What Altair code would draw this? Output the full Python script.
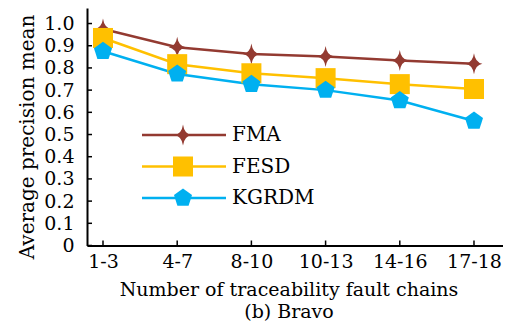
import altair as alt
import pandas as pd

categories = ["1-3", "4-7", "8-10", "10-13", "14-16", "17-18"]
series = ["FMA", "FESD", "KGRDM"]
fma = [0.975, 0.893, 0.863, 0.851, 0.833, 0.819]
fesd = [0.935, 0.817, 0.776, 0.754, 0.727, 0.705]
kgrdm = [0.875, 0.773, 0.726, 0.700, 0.653, 0.561]
y_ticks = [0.0, 0.1, 0.2, 0.3, 0.4, 0.5, 0.6, 0.7, 0.8, 0.9, 1.0]

colors = ["#933A31", "#FFC000", "#00B0F0"]
STAR = "M0,-1 Q0.12,-0.12 0.8,0 Q0.12,0.12 0,1 Q-0.12,0.12 -0.8,0 Q-0.12,-0.12 0,-1 Z"
PENT = "M0,-1 L0.951,-0.309 L0.588,0.809 L-0.588,0.809 L-0.951,-0.309 Z"
shapes = [STAR, "square", PENT]

rows = []
for s, vals in zip(series, [fma, fesd, kgrdm]):
    for i, (c, v) in enumerate(zip(categories, vals)):
        rows.append({"series": s, "idx": i, "cat": c, "value": v})
df = pd.DataFrame(rows)

W, H = 416, 237.5
FONT = "DejaVu Serif"

label_expr = "[" + ",".join("'%s'" % c for c in categories) + "][datum.value]"

color = alt.Color("series:N", scale=alt.Scale(domain=series, range=colors), legend=None)
shape = alt.Shape("series:N", scale=alt.Scale(domain=series, range=shapes), legend=None)
size = alt.Size("series:N", scale=alt.Scale(domain=series, range=[441, 361, 400]), legend=None)

xenc = alt.X(
    "idx:Q",
    scale=alt.Scale(domain=[-0.2156, 5.391], nice=False, zero=False),
    axis=alt.Axis(
        values=list(range(len(categories))),
        labelExpr=label_expr,
        ticks=False,
        grid=False,
        domainColor="black",
        domainWidth=2,
        labelFont=FONT,
        labelFontSize=19,
        labelColor="black",
        labelPadding=7,
        title=["Number of traceability fault chains", "(b) Bravo"],
        titleFont=FONT,
        titleFontSize=19,
        titleFontWeight="normal",
        titleColor="black",
        titleX=201.5,
        titleY=50,
        titleAlign="center",
        titleBaseline="alphabetic",
        titleLineHeight=22,
    ),
)
yenc = alt.Y(
    "value:Q",
    scale=alt.Scale(domain=[0, 1.07], nice=False, zero=True),
    axis=alt.Axis(
        values=y_ticks,
        labelExpr="datum.value == 0 ? '0' : format(datum.value, '.1f')",
        ticks=False,
        grid=False,
        domainColor="black",
        domainWidth=2,
        labelFont=FONT,
        labelFontSize=19,
        labelColor="black",
        labelPadding=13,
        title="Average precision mean",
        titleFont=FONT,
        titleFontSize=20,
        titleFontWeight="normal",
        titleColor="black",
        titleX=-54,
        titleY=128.5,
        titleAngle=270,
        titleAlign="center",
        titleBaseline="alphabetic",
    ),
)

base = alt.Chart(df)
lines = base.mark_line(strokeWidth=2.5).encode(x=xenc, y=yenc, color=color, detail="series:N")
points = base.mark_point(filled=True, opacity=1).encode(
    x=xenc, y=yenc, color=color, shape=shape, size=size,
    order=alt.Order("sidx:Q"),
).transform_calculate(sidx="indexof(%s, datum.series)" % str(series))

ytick_df = pd.DataFrame({"value": y_ticks})
yticks = alt.Chart(ytick_df).mark_rule(color="black", strokeWidth=1.5).encode(
    y=yenc, x=alt.value(0), x2=alt.value(5),
)
xtick_df = pd.DataFrame({"idx": list(range(len(categories)))})
xticks = alt.Chart(xtick_df).mark_rule(color="black", strokeWidth=1.5).encode(
    x=xenc, y=alt.value(H), y2=alt.value(H - 5),
)

leg_df = pd.DataFrame({"series": series})
leg_y = alt.Y("series:N", scale=alt.Scale(type="point", domain=series, range=[127, 190], padding=0), axis=None)
leg_lines = alt.Chart(leg_df).mark_rule(strokeWidth=2.5).encode(
    y=leg_y, x=alt.value(55), x2=alt.value(139), color=color
)
leg_pts = alt.Chart(leg_df).mark_point(filled=True, opacity=1).encode(
    y=leg_y, x=alt.value(96), color=color, shape=shape, size=size
)
leg_text = alt.Chart(leg_df).mark_text(
    align="left", baseline="middle", font=FONT, fontSize=20, color="black"
).encode(y=leg_y, x=alt.value(145), text="series:N")

main = alt.layer(lines, points, yticks, xticks)
legend = alt.layer(leg_lines, leg_pts, leg_text)

chart = alt.layer(main, legend).resolve_scale(y="independent").properties(
    width=W,
    height=H,
    padding={"left": 79, "top": 0, "right": 0, "bottom": 75.5},
    autosize=alt.AutoSizeParams(type="none"),
    background="white",
).configure_view(stroke=None)

chart.save("out.html", embed_options={"renderer": "svg", "actions": False})
